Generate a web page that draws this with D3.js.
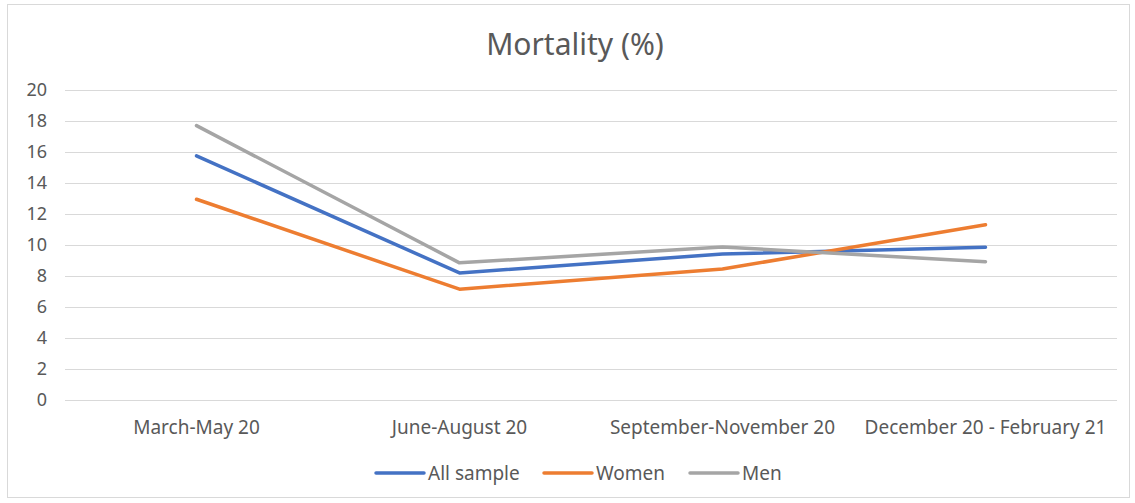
<!DOCTYPE html>
<html><head><meta charset="utf-8">
<script src="https://cdn.jsdelivr.net/npm/d3@7"></script>
<style>body{margin:0;background:#fff}svg text{font-family:"Noto Sans","Open Sans",sans-serif;fill:#595959}</style>
</head><body><svg id="c" width="1135" height="503"></svg>
<script>
const categories = ["March-May 20","June-August 20","September-November 20","December 20 - February 21"];
const allSample = [15.75, 8.2, 9.42, 9.85];
const women = [12.95, 7.15, 8.45, 11.3];
const men = [17.7, 8.85, 9.87, 8.92];
const yTicks = [0,2,4,6,8,10,12,14,16,18,20];
const seriesNames = ["All sample","Women","Men"];
const colors = ["#4472C4","#ED7D31","#A5A5A5"];
const series = [allSample, women, men];

const svg = d3.select("#c");
svg.append("rect").attr("x",7.5).attr("y",4.5).attr("width",1122).attr("height",493)
  .attr("fill","#fff").attr("stroke","#d9d9d9");

const x = d3.scaleBand().domain(categories).range([65,1117]);
const y = d3.scaleLinear().domain([0,20]).range([400,90]);

const grid = svg.append("g");
grid.selectAll("line").data(yTicks).join("line")
  .attr("x1",65).attr("x2",1117).attr("y1",d=>Math.round(y(d))+0.5).attr("y2",d=>Math.round(y(d))+0.5)
  .attr("stroke","#d9d9d9").attr("stroke-width",1);

const yAxis = svg.append("g").attr("transform","translate(65,0)")
  .call(d3.axisLeft(y).tickValues(yTicks).tickSize(0).tickPadding(18));
yAxis.select(".domain").remove();
yAxis.selectAll("text").style("font-size","18px").attr("fill","#595959");

const xAxis = svg.append("g").attr("transform","translate(0,400)")
  .call(d3.axisBottom(x).tickSize(0).tickPadding(20.5));
xAxis.select(".domain").remove();
xAxis.selectAll("text").style("font-size","19px").attr("fill","#595959");

const line = d3.line().x((d,i)=>x(categories[i])+x.bandwidth()/2).y(d=>y(d));
series.forEach((s,k)=>{
  svg.append("path").datum(s).attr("d",line).attr("fill","none")
    .attr("stroke",colors[k]).attr("stroke-width",3.5).attr("stroke-linejoin","round").attr("stroke-linecap","round");
});

svg.append("text").attr("x",575).attr("y",55).attr("text-anchor","middle")
  .style("font-size","30px").text("Mortality (%)");

const legX = [375, 543, 689];
const leg = svg.append("g");
seriesNames.forEach((n,k)=>{
  leg.append("line").attr("x1",legX[k]+1).attr("x2",legX[k]+49).attr("y1",473).attr("y2",473)
    .attr("stroke",colors[k]).attr("stroke-width",3.5).attr("stroke-linecap","round");
  leg.append("text").attr("x",legX[k]+53).attr("y",480).style("font-size","19px").text(n);
});
</script></body></html>
